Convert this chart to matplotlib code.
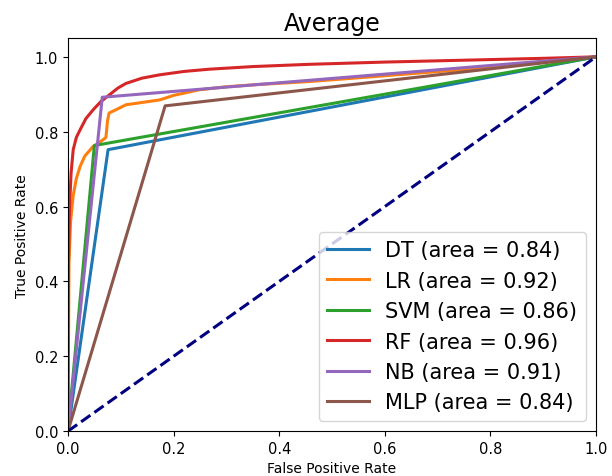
import matplotlib
matplotlib.use('Agg')
import matplotlib.pyplot as plt

# ROC curves
dt_fpr = [0.0, 0.076, 1.0]
dt_tpr = [0.0, 0.752, 1.0]

lr_fpr = [0.0, 0.002, 0.005, 0.01, 0.016, 0.023, 0.032, 0.048, 0.06, 0.067, 0.072,
          0.075, 0.078, 0.09, 0.11, 0.14, 0.174, 0.2, 0.249, 0.3, 0.36, 0.457,
          0.55, 0.65, 0.75, 0.85, 0.93, 1.0]
lr_tpr = [0.0, 0.45, 0.56, 0.63, 0.675, 0.707, 0.735, 0.761, 0.772, 0.779, 0.785,
          0.83, 0.85, 0.858, 0.872, 0.878, 0.885, 0.897, 0.912, 0.92, 0.926, 0.934,
          0.944, 0.955, 0.966, 0.978, 0.99, 1.0]

svm_fpr = [0.0, 0.050, 1.0]
svm_tpr = [0.0, 0.763, 1.0]

rf_fpr = [0.0, 0.001, 0.003, 0.006, 0.01, 0.016, 0.023, 0.034, 0.048, 0.062, 0.079,
          0.095, 0.11, 0.14, 0.174, 0.22, 0.268, 0.35, 0.457, 0.6, 0.75, 0.9, 1.0]
rf_tpr = [0.0, 0.45, 0.6, 0.69, 0.752, 0.785, 0.805, 0.835, 0.859, 0.88, 0.899,
          0.917, 0.929, 0.943, 0.952, 0.961, 0.967, 0.974, 0.98, 0.986, 0.991, 0.996, 1.0]

nb_fpr = [0.0, 0.065, 1.0]
nb_tpr = [0.0, 0.892, 1.0]

mlp_fpr = [0.0, 0.184, 1.0]
mlp_tpr = [0.0, 0.869, 1.0]

names = ['DT', 'LR', 'SVM', 'RF', 'NB', 'MLP']
aucs = [0.84, 0.92, 0.86, 0.96, 0.91, 0.84]
colors = ['#1f77b4', '#ff7f0e', '#2ca02c', '#d62728', '#9467bd', '#8c564b']
curves = [(dt_fpr, dt_tpr), (lr_fpr, lr_tpr), (svm_fpr, svm_tpr),
          (rf_fpr, rf_tpr), (nb_fpr, nb_tpr), (mlp_fpr, mlp_tpr)]

fig = plt.figure(figsize=(6.12, 4.77), dpi=100)
ax = fig.add_axes([0.111, 0.094, 0.863, 0.824])

for (fpr, tpr), name, auc, col in zip(curves, names, aucs, colors):
    ax.plot(fpr, tpr, color=col, lw=2.2, label='%s (area = %0.2f)' % (name, auc))
ax.plot([0, 1], [0, 1], color='navy', lw=2.2, linestyle='--')

ax.set_xlim([0.0, 1.0])
ax.set_ylim([0.0, 1.05])
ax.set_xlabel('False Positive Rate', fontsize=10)
ax.set_ylabel('True Positive Rate', fontsize=10)
ax.set_title('Average', fontsize=17)
ax.tick_params(labelsize=10.5)
ax.legend(loc='lower right', fontsize=15)

fig.savefig('out.png', dpi=100)
